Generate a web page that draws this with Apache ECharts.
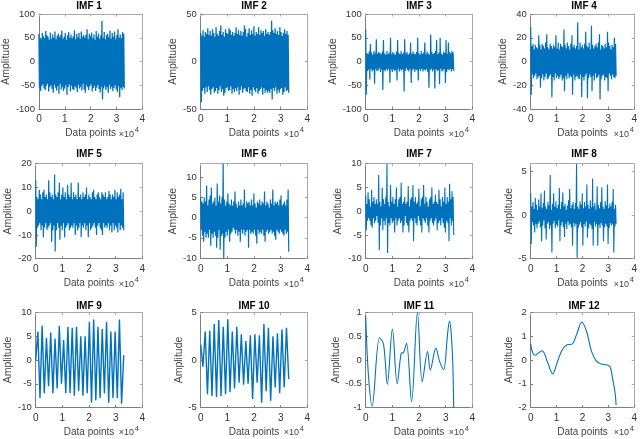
<!DOCTYPE html>
<html>
<head>
<meta charset="utf-8">
<script src="https://cdn.jsdelivr.net/npm/echarts@6.0.0/dist/echarts.min.js"></script>
<style>
html,body{margin:0;padding:0;background:#ffffff;}
#chart{width:640px;height:439px;}
</style>
</head>
<body>
<div id="chart"></div>
<script>
// ---------------- DATA ----------------
const SIGNAL_LENGTH = 33000;           // data points of each IMF
const xTickValues = [0, 10000, 20000, 30000, 40000];
const titles = ['IMF 1','IMF 2','IMF 3','IMF 4','IMF 5','IMF 6','IMF 7','IMF 8','IMF 9','IMF 10','IMF 11','IMF 12'];
const yLimits = [[-100,100],[-50,50],[-100,100],[-40,40],[-20,20],[-10.2,13.4],[-10,10],[-5,5.9],[-10,10],[-5,5],[-1,1],[-2,2]];
const yTickValues = [
  [-100,-50,0,50,100],[-50,0,50],[-100,-50,0,50,100],[-40,-20,0,20,40],
  [-20,-10,0,10,20],[-10,-5,0,5,10],[-10,-5,0,5,10],[-5,0,5],
  [-10,-5,0,5,10],[-5,0,5],[-1,-0.5,0,0.5,1],[-2,-1,0,1,2]
];

const imf1 = [
 58,-55,50,-62,47,-52,60,-48,53,-57,
 49,-60,64,-51,55,-47,52,-63,46,-54,
 61,-50,48,-58,57,-66,50,-49,63,-55,
 47,-61,54,-52,59,-68,51,-47,56,-59,
 65,-53,48,-62,52,-57,60,-50,46,-70,
 55,-54,62,-48,50,-63,57,-51,49,-58,
 53,-60,66,-52,47,-55,58,-64,51,-49,
 60,-57,48,-53,63,-61,52,-47,56,-59,
 50,-66,55,-50,68,-54,47,-60,58,-52,
 53,-48,61,-63,49,-56,57,-51,46,-62,
 64,-55,52,-49,59,-58,48,-65,55,-53,
 85,-80,50,-57,62,-51,47,-60,56,-54,
 58,-66,51,-49,65,-58,48,-53,60,-62,
 52,-56,63,-50,47,-59,55,-64,68,-52,
 50,-75,57,-55,49,-60,62,-53,58,-57
];
const imf2 = [
 30,-43,27,-31,33,-28,26,-34,31,-27,
 29,-32,35,-26,28,-30,32,-35,27,-29,
 34,-27,30,-33,26,-31,36,-28,29,-34,
 27,-30,32,-26,38,-32,28,-29,31,-36,
 26,-33,34,-28,30,-27,29,-31,35,-30,
 33,-26,28,-34,31,-29,27,-32,30,-28,
 36,-31,29,-27,33,-35,28,-30,32,-26,
 27,-33,31,-29,38,-28,34,-31,26,-32,
 30,-27,35,-34,28,-30,33,-36,29,-27,
 37,-30,27,-32,31,-28,29,-34,36,-31,
 28,-29,33,-27,30,-35,32,-28,27,-33,
 34,-30,29,-33,31,-31,28,-33,31,-29,
 43,-40,33,-28,30,-31,35,-27,29,-34,
 32,-30,28,-33,36,-29,31,-28,27,-35,
 30,-32,34,-27,29,-31,32,-30,28,-33
];
const imf3 = [
 68,-70,18,-20,15,-17,21,-38,37,-16,
 19,-21,14,-18,22,-47,17,-15,47,-20,
 16,-19,20,-14,18,-22,15,-17,21,-60,
 45,-18,17,-21,14,-16,22,-19,16,-15,
 19,-45,50,-17,15,-22,20,-16,17,-20,
 14,-18,21,-40,45,-15,18,-21,16,-17,
 22,-19,15,-16,19,-63,47,-20,17,-14,
 20,-18,14,-21,18,-16,40,-45,16,-19,
 21,-15,17,-22,15,-17,20,-18,50,-40,
 18,-16,14,-20,22,-15,16,-21,19,-17,
 40,-19,15,-16,21,-22,17,-55,14,-18,
 57,-15,20,-21,16,-17,18,-57,22,-16,
 45,-20,15,-18,19,-48,50,-15,17,-21,
 14,-19,21,-16,18,-45,45,-22,16,-17,
 40,-18,20,-15,17,-21,22,-16,19,-20
];
const imf4 = [
 29,-28,13,-11,15,-14,10,-12,14,-10,
 12,-15,11,-13,22,-12,14,-22,10,-14,
 15,-11,13,-16,11,-13,16,-10,23,-15,
 12,-14,10,-12,15,-11,13,-30,11,-13,
 14,-16,12,-10,22,-14,11,-12,16,-15,
 10,-13,15,-11,13,-16,12,-14,27,-25,
 14,-12,11,-15,16,-10,13,-14,10,-12,
 15,-13,22,-28,12,-11,14,-16,11,-13,
 13,-12,33,-14,10,-15,16,-11,12,-30,
 14,-13,11,-16,15,-12,25,-10,13,-31,
 12,-14,16,-11,10,-13,30,-25,14,-12,
 11,-16,13,-10,15,-14,12,-13,16,-11,
 23,-32,10,-15,14,-12,13,-11,11,-16,
 15,-13,12,-14,25,-25,16,-10,13,-12,
 10,-15,14,-11,12,-13,20,-14,15,-12
];
const imf5 = [
 13,-15,6,-7,5,-6,9,-5,7,-8,
 5,-6,8,-11,9,-7,6,-5,7,-8,
 5,-7,13,-6,8,-5,6,-13,7,-8,
 5,-6,15.5,-17,7,-8,6,-5,8,-7,
 12,-12,5,-6,7,-8,10,-5,6,-11,
 8,-7,5,-6,11,-5,7,-8,6,-7,
 12,-6,5,-7,8,-5,6,-10,7,-6,
 5,-8,12,-7,6,-5,7,-11,5,-6,
 8,-7,6,-5,7,-8,10,-6,5,-11,
 7,-5,6,-8,5,-7,8,-6,9,-5,
 6,-7,5,-10,7,-6,8,-5,6,-7,
 5,-8,8,-10,7,-5,6,-7,8,-6,
 5,-7,6,-5,8.5,-8,7,-6,5,-9,
 7,-5,6,-8,9,-6,5,-7,8,-9,
 6,-5,7,-8,9.5,-6,5,-7,8,-8
];
const imf6 = [
 5,-3,4,-4.5,3.5,-6,5,-3.5,4,-5,
 8,-4,3,-5,4.5,-3,5.5,-7,7.5,-4,
 3.5,-5,4,-3.5,5,-4.5,3,-7.5,8.5,-5,
 4,-3,5.5,-8,3.5,-4.5,5,-4,13.4,-10.2,
 4.5,-5,3,-3.5,4,-4.5,6,-3,3.5,-6,
 3,-4,4.5,-3.5,3,-2.5,4,-3,6.5,-4,
 3.5,-3,2.5,-4.5,4,-3.5,3,-6,4.5,-3,
 3,-4,3.5,-3,7,-4.5,2.5,-3.5,4,-3,
 3.5,-7.5,4,-3,3,-4,4.5,-3.5,3,-4,
 6,-3,3.5,-4.5,2.5,-6.5,4,-3,3.5,-4,
 4.5,-3.5,3,-4,4,-3,3.5,-4.5,6.5,-6,
 3,-3.5,4,-3,3.5,-4,2.5,-3.5,4.5,-3,
 3.5,-4,7,-3.5,3,-4.5,4,-5.5,3.5,-3,
 4,-3.5,3,-4,4.5,-3,5.5,-3.5,3,-4,
 3.5,-4.5,4,-3,3,-4,4.5,-3.5,7,-8.5
];
const imf7 = [
 3.3,-4,1.5,-2,4,-1.5,2.5,-2,1,-3,
 4.5,-3.5,2,-1.5,3,-2.5,1.5,-2,2.5,-1,
 1.5,-2.5,7.6,-8.2,2,-3,1,-1.5,5,-4,
 2.5,-2,1.5,-3,3,-1.5,10,-8.8,2,-2.5,
 1,-3,5.5,-1.5,2,-2.5,3,-2,1.5,-4.5,
 2.5,-1.5,5,-3,1,-2,2.5,-1.5,3,-2.5,
 6,-2,1.5,-4.5,2,-3,3,-1,1.5,-2.5,
 2,-3,5.3,-4.5,1,-2,2.5,-1.5,3,-2,
 5.5,-6.3,2,-1.5,3,-2.5,1.5,-3,2,-1,
 4.8,-2,1,-3,2.5,-4.5,3,-1.5,5.5,-2,
 1.5,-2.5,3,-1.5,2,-3,1,-4.5,2.5,-2,
 3,-1.5,5,-2.5,1.5,-3,2,-2,3.5,-1.5,
 2,-4,1.5,-2.5,4.5,-2,2.5,-3,1,-1.5,
 3,-2.5,2,-3.5,5,-4.5,1.5,-2,3,-2.5,
 2,-6.3,5.8,-1.5,2.5,-3,4.2,-2,3,-5
];
const imf8 = [
 2.5,-3.3,1,-0.8,1.5,-1.2,0.7,-2,2,-1,
 1.2,-1.5,0.6,-1,1.8,-0.7,1,-1.4,2.5,-3,
 0.8,-1.2,1.4,-0.6,2.8,-1.5,1,-2.8,0.7,-1,
 1.5,-0.8,1.1,-1.6,4.6,-1.2,0.6,-4.3,1.3,-1,
 2.5,-0.7,1,-1.5,1.6,-1.1,0.8,-1.3,1.2,-0.6,
 3.1,-3,0.7,-1.2,1.5,-0.8,2.6,-1.4,1,-2.5,
 1.3,-1,0.6,-1.6,1.1,-0.7,1.7,-1.2,3,-1,
 0.8,-1.4,1.2,-3.5,1.5,-0.9,0.7,-1.3,1.4,-1,
 5.9,-4.9,1,-1.5,0.7,-1.1,1.6,-0.8,1.2,-1.4,
 2.5,-3.5,0.8,-1,1.5,-1.3,1,-0.7,3.5,-2.6,
 1.2,-1.5,0.7,-1,1.7,-1.2,0.9,-1.6,4.2,-3.5,
 1,-0.8,1.4,-1.3,0.6,-1,3.3,-3.5,1.2,-1.1,
 0.8,-1.5,1.5,-0.9,3.2,-1.2,1,-3,0.7,-1.4,
 1.6,-1,1.1,-1.3,3.5,-3.3,0.8,-1.5,1.3,-0.9,
 1,-1.2,1.5,-1,3,-4.3,0.7,-1.3,1.2,-1
];
const imf9 = [0, 6,-8, 7.2,-7, 4.6,-5.5, 5.8,-7, 4.5,-6, 7.2,-5, 4.2,-7, 7,-7, 6.8,-7.5, 7,-6.5,
  5,-7.5, 5,-7, 8,-9, 8.5,-8.5, 7,-8, 6.5,-7, 8,-9, 6,-8, 6,-8, 8.5,-9.2, 1];
const imf10 = [1.6,-0.7, 3.0,-3.6, 3.1,-3.8, 3.8,-3.9, 4.2,-3.8, 3.5,-3.6, 4.3,-3.4, 3.0,-3.0, 3.5,-2.4,
  2.7,-2.6, 2.0,-2.5, 2.6,-4.1, 2.7,-2.4, 2.6,-4.5, 3.8,-3.3, 3.4,-4.3, 2.5,-2.9, 2.8,-3.5, 3.2,-2.9, 3.4,-2.0];
const imf11X = [0,1000,2400,5200,6700,8100,10000,11800,13300,14200,15300,17200,19400,21200,23200,24200,26300,27700,29200,30700,31400,32000,32600,33000];
const imf11Y = [0.93,-0.3,-0.97,0.47,0.33,-0.51,0.65,-0.5,0.14,0.16,0.35,-0.88,1.0,-0.46,0.18,-0.21,0.25,-0.03,-0.2,0.55,0.82,0.6,0.0,-1.0];
const imf12X = [0,800,1800,2800,4400,6600,8500,10400,12200,14100,16000,17900,19700,21600,23500,25400,27200,29100,30600,31600,32600,33000];
const imf12Y = [0.67,0.3,0.2,0.28,0.39,-0.12,-0.58,-0.05,0.43,0.64,0.67,1.13,1.6,1.2,0.36,-0.05,-0.17,-0.2,-0.27,-0.75,-1.38,-1.9];

// ---------------- LAYOUT ----------------
const COL_LEFT = [35.7, 200.7, 365.7, 530.7];
const ROW_TOP = [14, 163.7, 312.5];
const PLOT_W = 106.7, PLOT_H = 95;
const Y_NAME_GAP = [22.5,18,22.5,19,18,17,17,11,17,14,20.5,12];
const TITLE_Y = [6, 154.5, 306.5];
const LINE_W = [1.3,1.3,1.2,1.2,1.2,1.2,1.1,1.1,1.4,1.4,1.1,1.1];
const FONT = "'Liberation Sans', Arial, Helvetica, sans-serif";
const BLUE = '#0072BD';

function uniformSeries(values) {
  const step = SIGNAL_LENGTH / (values.length - 1);
  return values.map((v, i) => [i * step, v]);
}
function pairedSeries(xs, ys) { return xs.map((x, i) => [x, ys[i]]); }

const seriesData = [
  uniformSeries(imf1), uniformSeries(imf2), uniformSeries(imf3), uniformSeries(imf4),
  uniformSeries(imf5), uniformSeries(imf6), uniformSeries(imf7), uniformSeries(imf8),
  uniformSeries(imf9), uniformSeries(imf10), pairedSeries(imf11X, imf11Y), pairedSeries(imf12X, imf12Y)
];

const grids = [], xAxes = [], yAxes = [], series = [], graphics = [];
for (let k = 0; k < 12; k++) {
  const r = Math.floor(k / 4), c = k % 4;
  const left = COL_LEFT[c], top = ROW_TOP[r];
  grids.push({left: left, top: top, width: PLOT_W, height: PLOT_H, containLabel: false});
  [false, true].forEach(mirror => {
    const lc = mirror ? '#a9a9a9' : '#7d7d7d';
    xAxes.push({
      type: 'value', gridIndex: k, position: mirror ? 'top' : 'bottom',
      min: 0, max: 40000, interval: 10000,
      axisLine: {show: true, onZero: false, lineStyle: {color: lc, width: 1}},
      axisTick: {show: true, inside: true, length: 2.5, lineStyle: {color: lc, width: 1}},
      axisLabel: {show: !mirror, margin: 5.5, fontSize: 10, fontFamily: FONT, color: '#333',
        formatter: v => String(v / 10000)},
      splitLine: {show: false},
      name: mirror ? '' : 'Data points', nameLocation: 'middle', nameGap: 19.5,
      nameTextStyle: {fontSize: 10, fontFamily: FONT, color: '#444'}
    });
    yAxes.push({
      type: 'value', gridIndex: k, position: mirror ? 'right' : 'left',
      min: yLimits[k][0], max: yLimits[k][1],
      axisLine: {show: true, onZero: false, lineStyle: {color: lc, width: 1}},
      axisTick: {show: true, inside: true, length: 2.5, customValues: yTickValues[k], lineStyle: {color: lc, width: 1}},
      axisLabel: {show: !mirror, margin: 4, fontSize: 9.5, fontFamily: FONT, color: '#333', customValues: yTickValues[k]},
      splitLine: {show: false},
      name: mirror ? '' : 'Amplitude', nameLocation: 'middle', nameGap: Y_NAME_GAP[k], nameRotate: 90,
      nameTextStyle: {fontSize: 10.5, fontFamily: FONT, color: '#444'}
    });
  });
  series.push({
    type: 'line', xAxisIndex: 2 * k, yAxisIndex: 2 * k, data: seriesData[k],
    showSymbol: false, symbol: 'none', silent: true, animation: false,
    smooth: k >= 10 ? 0.35 : false,
    lineStyle: {color: BLUE, width: LINE_W[k]}
  });
  const right = left + PLOT_W;
  const bottom = top + PLOT_H;
  graphics.push({type: 'text', x: left + PLOT_W / 2, y: TITLE_Y[r], silent: true,
    style: {text: titles[k], align: 'center', verticalAlign: 'middle', textAlign: 'center', textVerticalAlign: 'middle',
      fontSize: 10, fontWeight: 'bold', fontFamily: FONT, fill: '#000'}});
  graphics.push({type: 'text', x: right - 8.5, y: bottom + 25.5, silent: true,
    style: {text: '\u00d710', align: 'right', verticalAlign: 'middle', textAlign: 'right', textVerticalAlign: 'middle',
      fontSize: 9, fontFamily: FONT, fill: '#444'}});
  graphics.push({type: 'text', x: right - 3.5, y: bottom + 21, silent: true,
    style: {text: '4', align: 'right', verticalAlign: 'middle', textAlign: 'right', textVerticalAlign: 'middle',
      fontSize: 7.5, fontFamily: FONT, fill: '#444'}});
}

const chart = echarts.init(document.getElementById('chart'), null, {renderer: 'canvas'});
chart.setOption({
  animation: false,
  backgroundColor: '#ffffff',
  grid: grids, xAxis: xAxes, yAxis: yAxes, series: series, graphic: graphics
});
</script>
</body>
</html>
